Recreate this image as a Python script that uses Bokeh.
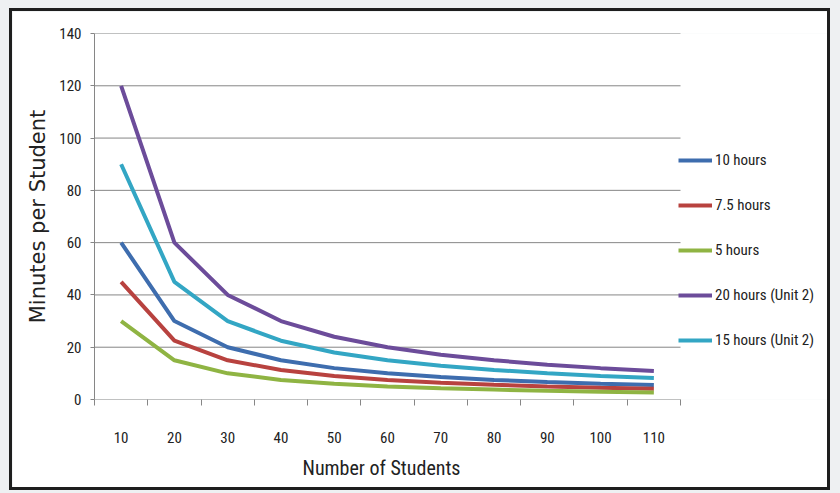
from bokeh.plotting import figure
from bokeh.models import FixedTicker, Legend, LegendItem, Title
from bokeh.layouts import column
from bokeh.embed import file_html
from bokeh.resources import INLINE

students = [10, 20, 30, 40, 50, 60, 70, 80, 90, 100, 110]
h10 = [60, 30, 20, 15, 12, 10, 8.6, 7.5, 6.7, 6, 5.5]
h7_5 = [45, 22.5, 15, 11.3, 9, 7.5, 6.4, 5.6, 5, 4.5, 4.1]
h5 = [30, 15, 10, 7.5, 6, 5, 4.3, 3.8, 3.3, 3, 2.7]
h20 = [120, 60, 40, 30, 24, 20, 17.1, 15, 13.3, 12, 10.9]
h15 = [90, 45, 30, 22.5, 18, 15, 12.9, 11.3, 10, 9, 8.2]
series_names = ["10 hours", "7.5 hours", "5 hours", "20 hours (Unit 2)", "15 hours (Unit 2)"]
series_vals = [h10, h7_5, h5, h20, h15]
colors = ["#3E6DAE", "#B8423F", "#8FB443", "#6C4C9A", "#33A6C4"]
y_ticks = [0, 20, 40, 60, 80, 100, 120, 140]

NARROW = "Liberation Sans Narrow, Roboto Condensed, Arial Narrow, sans-serif"

X0, X1 = 5, 115                      # category axis extent
FRAME_W_AXIS = 586                   # pixels used by the category axis
FRAME_W = 736                        # frame also hosts the legend area
x_end = X0 + (X1 - X0) * FRAME_W / FRAME_W_AXIS

p = figure(width=821, height=482, x_range=(X0, x_end), y_range=(0, 140),
           output_backend="svg", toolbar_location=None,
           min_border_left=82, min_border_right=3, min_border_top=22, min_border_bottom=94,
           background_fill_color="white", border_fill_color="white",
           styles={"margin-left": "9px", "margin-top": "8px", "border": "3px solid #1e1e1e"})
p.outline_line_color = None

# horizontal gridlines, limited to the category axis extent
p.segment(x0=[X0] * len(y_ticks), x1=[X1] * len(y_ticks), y0=y_ticks, y1=y_ticks,
          line_color="#868686", line_width=1)

renderers = []
for name, vals, c in zip(series_names, series_vals, colors):
    r = p.line(students, vals, line_color=c, line_width=4)
    renderers.append((name, r))

# axes
p.xaxis.ticker = FixedTicker(ticks=students, minor_ticks=[X0 + 10 * i for i in range(12)])
p.xaxis.major_tick_out = 0
p.xaxis.major_tick_in = 0
p.xaxis.minor_tick_out = 6
p.xaxis.minor_tick_in = 0
p.xaxis.minor_tick_line_color = "#868686"
p.xaxis.axis_line_color = None
p.xaxis.major_label_standoff = 26
p.xaxis.major_label_text_font = NARROW
p.xaxis.major_label_text_font_size = "15px"
p.xaxis.major_label_text_color = "#222222"

p.add_layout(Title(text="Number of Students", align="left", offset=208, standoff=16,
                   text_font=NARROW, text_font_size="20px", text_font_style="normal",
                   text_color="#222222"), "below")

p.yaxis.ticker = FixedTicker(ticks=y_ticks)
p.yaxis.minor_tick_line_color = None
p.yaxis.major_tick_out = 4
p.yaxis.major_tick_in = 0
p.yaxis.major_tick_line_color = "#868686"
p.yaxis.axis_line_color = "#868686"
p.yaxis.major_label_standoff = 9
p.yaxis.major_label_text_font = NARROW
p.yaxis.major_label_text_font_size = "15px"
p.yaxis.major_label_text_color = "#222222"
p.yaxis.axis_label = "Minutes per Student"
p.yaxis.axis_label_text_font = "DejaVu Sans"
p.yaxis.axis_label_text_font_size = "21px"
p.yaxis.axis_label_text_font_style = "normal"
p.yaxis.axis_label_text_color = "#222222"
p.yaxis.axis_label_standoff = 6

p.xgrid.grid_line_color = None
p.ygrid.grid_line_color = None

legend = Legend(items=[LegendItem(label=n, renderers=[r]) for n, r in renderers],
                location=(FRAME_W_AXIS - 2, 49), orientation="vertical",
                glyph_width=34, glyph_height=20, label_height=20, spacing=25,
                padding=0, margin=0, label_standoff=3,
                border_line_color=None, background_fill_alpha=0,
                label_text_font=NARROW, label_text_font_size="15px", label_text_color="#222222")
p.add_layout(legend, "center")

layout = column(p, width=840, height=493, styles={"background-color": "#eef0f2"})
open("out.html", "w").write(file_html(layout, INLINE))
